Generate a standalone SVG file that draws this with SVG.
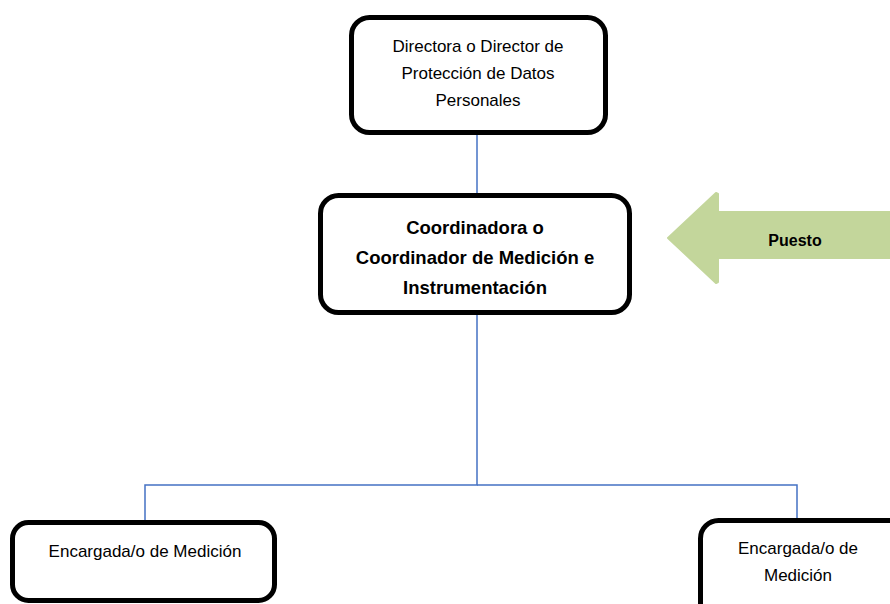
<svg xmlns="http://www.w3.org/2000/svg" width="890" height="604" viewBox="0 0 890 604">
<style>
.box{fill:#ffffff;stroke:#000000;stroke-width:5}
.t{font-family:"Liberation Sans",Arial,sans-serif;font-size:17px;fill:#000;text-anchor:middle}
.b{font-family:"Liberation Sans",Arial,sans-serif;font-size:18.5px;font-weight:bold;fill:#000;text-anchor:middle}
.c{fill:none;stroke:#4472c4;stroke-width:1.5}
</style>
<rect width="890" height="604" fill="#ffffff"/>
<g id="connectors">
<line class="c" x1="477" y1="133" x2="477" y2="195"/>
<polyline class="c" points="477,313 477,485 145,485 145,520"/>
<polyline class="c" points="477,485 797,485 797,518"/>
</g>
<g id="director">
<rect class="box" x="351.5" y="17.5" width="254" height="115" rx="18"/>
<text class="t" x="478" y="52">Directora o Director de</text>
<text class="t" x="478" y="79">Protección de Datos</text>
<text class="t" x="478" y="106">Personales</text>
</g>
<g id="coordinador">
<rect class="box" x="320.5" y="195.5" width="309" height="117" rx="18"/>
<text class="b" x="475" y="234">Coordinadora o</text>
<text class="b" x="475" y="264">Coordinador de Medición e</text>
<text class="b" x="475" y="294">Instrumentación</text>
</g>
<g id="puesto">
<path d="M668,238 L716,193 L718,194 L718,212 L892,212 L892,258 L718,258 L718,282 L716,283 Z" fill="#c3d69b" stroke="#c3d69b" stroke-width="2" stroke-linejoin="round"/>
<text x="795" y="246" font-family="Liberation Sans,Arial,sans-serif" font-size="16" font-weight="bold" text-anchor="middle" fill="#000">Puesto</text>
</g>
<g id="encargada1">
<rect class="box" x="12.5" y="522.5" width="262" height="78" rx="16"/>
<text class="t" x="145" y="557">Encargada/o de Medición</text>
</g>
<g id="encargada2">
<rect class="box" x="700.5" y="520.5" width="230" height="110" rx="18"/>
<text class="t" x="798" y="554">Encargada/o de</text>
<text class="t" x="798" y="581">Medición</text>
</g>
</svg>
